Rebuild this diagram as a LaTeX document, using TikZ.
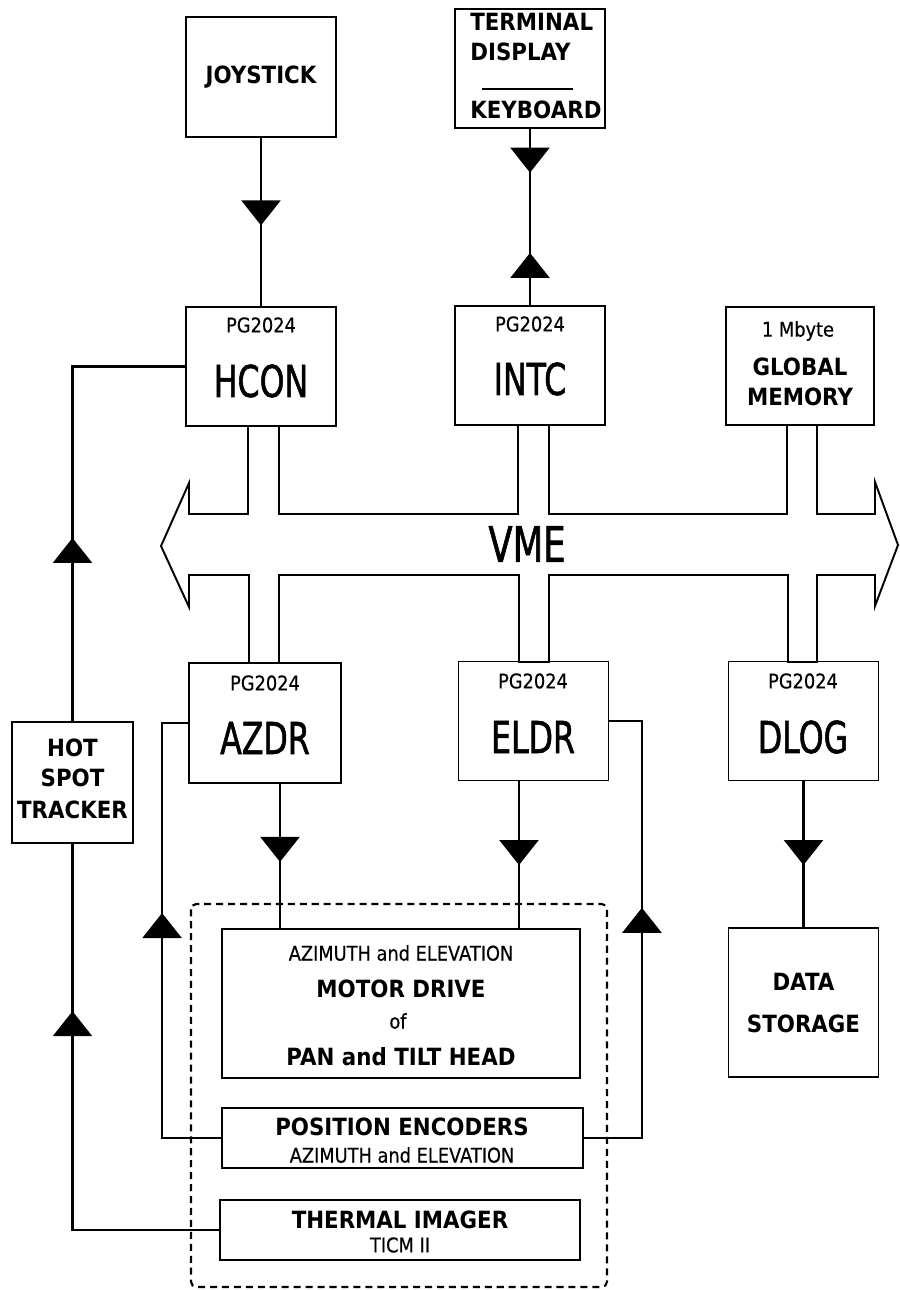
\documentclass[tikz,border=0pt]{standalone}
\usepackage{fontspec}
\setmainfont{DejaVu Sans}
\newfontfamily\namefont[FakeStretch=0.72, FakeBold=1.2]{DejaVu Sans}
\newfontfamily\tagfont[FakeStretch=0.88, FakeBold=0.5]{DejaVu Sans}
\newfontfamily\capfont[FakeStretch=0.9]{DejaVu Sans}
\usetikzlibrary{arrows.meta, decorations.markings}

\begin{document}
\begin{tikzpicture}[
  x=0.02cm, y=-0.02cm,
  % plain boxes, sized per unit
  box/.style 2 args={rectangle, draw, line width=1.1pt,
                     minimum width=#1, minimum height=#2, inner sep=0pt},
  cpu/.style={box={3cm}{2.38cm}},
  % texts
  tag/.style={font=\tagfont\fontsize{11.5}{13}\selectfont, inner sep=0pt},
  heading/.style={font=\capfont\bfseries\fontsize{13.5}{15}\selectfont, inner sep=0pt},
  unitname/.style={font=\namefont\fontsize{25}{28}\selectfont, inner sep=0pt},
  % connectors with a filled triangle part way along
  wire/.style={line width=1.4pt},
  tipat/.style={postaction={decorate, decoration={markings,
      mark=at position #1 with {\arrow{Triangle[length=0.5cm, width=0.78cm]}}}}},
  twotips/.style 2 args={postaction={decorate, decoration={markings,
      mark=at position #1 with {\arrow{Triangle[length=0.5cm, width=0.78cm]}},
      mark=at position #2 with {\arrowreversed{Triangle[length=0.5cm, width=0.78cm]}}}}},
  bus/.style={line width=1.1pt, line join=miter},
  group/.style={line width=1.2pt, dash pattern=on 4pt off 2.8pt, rounded corners=3pt}
]
\useasboundingbox (0,0) rectangle (899,1290);

%% -- operator inputs --------------------------------------
\node[box={3cm}{2.4cm}]   (joy)  at (261,77)    {};
\node[box={3cm}{2.38cm}]  (term) at (530,68.5)  {};
\node[heading] (joy-t) at (261,77) {JOYSTICK};
\node[heading, anchor=west] (term-t1) at (470,22)  {TERMINAL};
\node[heading, anchor=west] (term-t2) at (470,52)  {DISPLAY};
\node[heading, anchor=west] (term-t3) at (470,110) {KEYBOARD};
\draw[line width=1.2pt] (482,89) -- (573,89);

%% -- cards above the bus ----------------------------------
\node[cpu] (hcon) at (261,366.5) {};
\node[cpu] (intc) at (530,365.5) {};
\node[box={2.96cm}{2.36cm}] (gmem) at (800,366) {};
\node[tag]      (hcon-pg) at (261,325) {PG2024};
\node[unitname] (hcon-t)  at (261,381) {HCON};
\node[tag]      (intc-pg) at (530,324) {PG2024};
\node[unitname] (intc-t)  at (530,379) {INTC};
\node[tag]      (gmem-t1) at (798,331) {1 Mbyte};
\node[heading]  (gmem-t2) at (800,367) {GLOBAL};
\node[heading]  (gmem-t3) at (800,397) {MEMORY};

\draw[wire, tipat=0.52] (joy.south) -- (hcon.north);
\draw[wire, twotips={0.248}{0.704}] (term.south) -- (intc.north);

%% -- VME bus ----------------------------------------------
\draw[bus] (189,514) -- (248,514) -- (248,426) -- (279,426) -- (279,514)
  -- (518,514) -- (518,425) -- (549,425) -- (549,514)
  -- (787,514) -- (787,425) -- (817,425) -- (817,514)
  -- (875,514) -- (875,482) -- (898,545) -- (875,606) -- (875,575)
  -- (817,575) -- (817,662) -- (788,662) -- (788,575)
  -- (549,575) -- (549,662) -- (519,662) -- (519,575)
  -- (279,575) -- (279,663) -- (249,663) -- (249,575)
  -- (189,575) -- (189,607) -- (161,546) -- (189,483) -- cycle;
\node[unitname, font=\namefont\fontsize{28}{30}\selectfont] (vme) at (527,544) {VME};

%% -- cards below the bus ----------------------------------
\node[box={3.04cm}{2.4cm}] (azdr) at (265,723)   {};
\node[cpu] (eldr) at (533.5,721) {};
\node[cpu] (dlog) at (803.5,721) {};
\node[tag]      (azdr-pg) at (265,683) {PG2024};
\node[unitname] (azdr-t)  at (265,738) {AZDR};
\node[tag]      (eldr-pg) at (533,681) {PG2024};
\node[unitname] (eldr-t)  at (533,737) {ELDR};
\node[tag]      (dlog-pg) at (803,681) {PG2024};
\node[unitname] (dlog-t)  at (803,737) {DLOG};

%% -- tracker and storage ----------------------------------
\node[box={2.42cm}{2.42cm}] (hst) at (72.5,782.5) {};
\node[heading] (hst-t1) at (72.5,748) {HOT};
\node[heading] (hst-t2) at (72.5,778) {SPOT};
\node[heading] (hst-t3) at (72.5,810) {TRACKER};
\node[box={3cm}{2.98cm}] (data) at (803.5,1002.5) {};
\node[heading] (data-t1) at (803.5,982)  {DATA};
\node[heading] (data-t2) at (803.5,1024) {STORAGE};

%% -- pan and tilt head (dashed group) ---------------------
\draw[group] (191,904) rectangle (607,1287);
\node[box={7.16cm}{2.98cm}] (motor)   at (401,1003.5) {};
\node[box={7.22cm}{1.2cm}]  (posenc)  at (402.5,1138) {};
\node[box={7.2cm}{1.2cm}]   (thermal) at (400,1230)   {};
\node[tag]     (motor-t1) at (401,953)  {AZIMUTH and ELEVATION};
\node[heading] (motor-t2) at (401,989)  {MOTOR DRIVE};
\node[tag]     (motor-t3) at (398,1021) {of};
\node[heading] (motor-t4) at (401,1057) {PAN and TILT HEAD};
\node[heading] (posenc-t1) at (402,1127) {POSITION ENCODERS};
\node[tag]     (posenc-t2) at (402,1155) {AZIMUTH and ELEVATION};
\node[heading] (thermal-t1) at (400,1220) {THERMAL IMAGER};
\node[tag]     (thermal-t2) at (400,1245) {TICM II};

%% -- drive outputs ----------------------------------------
\path ([xshift=0.3cm]azdr.south)   coordinate (azdr-out);
\path ([xshift=-0.29cm]eldr.south) coordinate (eldr-out);
\draw[wire, tipat=0.541] (azdr-out) -- (azdr-out |- motor.north);
\draw[wire, tipat=0.570] (eldr-out) -- (eldr-out |- motor.north);
\draw[wire, tipat=0.574] (dlog.south) -- (data.north);

%% -- feedback loops ---------------------------------------
\draw[wire, tipat=0.568] (posenc.west) -- ++(-59,0) |- (azdr.west);
\draw[wire, tipat=0.568] (posenc.east) -- ++(58,0)  |- (eldr.east);
\draw[wire, tipat=0.686] (thermal.west) -- (thermal.west -| hst.south) -- (hst.south);
\draw[wire, tipat=0.392] (hst.north) -- (hst.north |- hcon.west) -- (hcon.west);

\end{tikzpicture}
\end{document}
